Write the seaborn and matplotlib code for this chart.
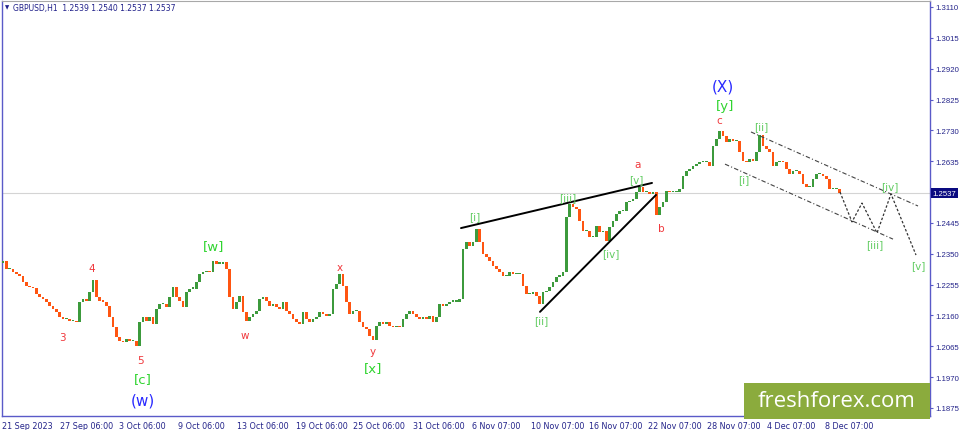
import matplotlib
matplotlib.use("Agg")
import matplotlib.pyplot as plt
import matplotlib.patches as mpatches
import seaborn as sns
import pandas as pd

# GBPUSD H1, closes (one value per ~5 hourly bars)
closes = [
    1.2328, 1.2303, 1.2303, 1.2294, 1.2288, 1.2282, 1.2263, 1.2251, 1.2248, 1.2245,
    1.2226, 1.2217, 1.2211, 1.2202, 1.2189, 1.2180, 1.2171, 1.2155, 1.2149, 1.2149,
    1.2143, 1.2143, 1.2140, 1.2202, 1.2211, 1.2205, 1.2232, 1.2269, 1.2217, 1.2205,
    1.2202, 1.2189, 1.2155, 1.2124, 1.2094, 1.2081, 1.2078, 1.2088, 1.2081, 1.2081,
    1.2066, 1.2140, 1.2155, 1.2143, 1.2155, 1.2134, 1.2180, 1.2195, 1.2195, 1.2186,
    1.2217, 1.2248, 1.2217, 1.2205, 1.2186, 1.2232, 1.2242, 1.2242, 1.2263, 1.2288,
    1.2294, 1.2297, 1.2294, 1.2328, 1.2319, 1.2319, 1.2325, 1.2303, 1.2217, 1.2180,
    1.2202, 1.2220, 1.2171, 1.2143, 1.2155, 1.2165, 1.2174, 1.2211, 1.2217, 1.2205,
    1.2189, 1.2195, 1.2186, 1.2180, 1.2202, 1.2174, 1.2165, 1.2149, 1.2140, 1.2134,
    1.2171, 1.2149, 1.2140, 1.2149, 1.2155, 1.2171, 1.2165, 1.2158, 1.2165, 1.2242,
    1.2257, 1.2288, 1.2251, 1.2202, 1.2165, 1.2174, 1.2174, 1.2140, 1.2124, 1.2118,
    1.2097, 1.2084, 1.2127, 1.2140, 1.2134, 1.2140, 1.2127, 1.2124, 1.2127, 1.2124,
    1.2149, 1.2165, 1.2174, 1.2165, 1.2155, 1.2149, 1.2155, 1.2149, 1.2158, 1.2140,
    1.2155, 1.2195, 1.2189, 1.2195, 1.2202, 1.2202, 1.2202, 1.2211, 1.2365, 1.2386,
    1.2374, 1.2386, 1.2426, 1.2386, 1.2349, 1.2340, 1.2328, 1.2312, 1.2303, 1.2294,
    1.2282, 1.2282, 1.2294, 1.2288, 1.2288, 1.2288, 1.2251, 1.2226, 1.2226, 1.2232,
    1.2220, 1.2195, 1.2232, 1.2235, 1.2248, 1.2263, 1.2279, 1.2282, 1.2294, 1.2463,
    1.2503, 1.2494, 1.2488, 1.2451, 1.2420, 1.2420, 1.2402, 1.2402, 1.2435, 1.2417,
    1.2420, 1.2389, 1.2432, 1.2451, 1.2473, 1.2482, 1.2482, 1.2509, 1.2512, 1.2519,
    1.2540, 1.2556, 1.2540, 1.2540, 1.2534, 1.2540, 1.2469, 1.2494, 1.2509, 1.2543,
    1.2540, 1.2540, 1.2540, 1.2549, 1.2589, 1.2605, 1.2611, 1.2620, 1.2626, 1.2633,
    1.2633, 1.2633, 1.2620, 1.2682, 1.2703, 1.2728, 1.2713, 1.2694, 1.2703, 1.2697,
    1.2697, 1.2663, 1.2636, 1.2633, 1.2642, 1.2636, 1.2663, 1.2716, 1.2682, 1.2673,
    1.2663, 1.2620, 1.2633, 1.2636, 1.2633, 1.2611, 1.2596, 1.2605, 1.2605, 1.2596,
    1.2565, 1.2556, 1.2556, 1.2580, 1.2596, 1.2596, 1.2589, 1.2580, 1.2549, 1.2549,
    1.2549, 1.2537,
]
first_open = 1.2320
last_price = 1.2537

date_labels = ["21 Sep 2023", "27 Sep 06:00", "3 Oct 06:00", "9 Oct 06:00", "13 Oct 06:00",
               "19 Oct 06:00", "25 Oct 06:00", "31 Oct 06:00", "6 Nov 07:00", "10 Nov 07:00",
               "16 Nov 07:00", "22 Nov 07:00", "28 Nov 07:00", "4 Dec 07:00", "8 Dec 07:00"]
date_pos = [-0.3, 17.1, 34.8, 52.5, 70.2, 87.9, 105.0, 123.0, 140.7, 158.4,
            175.8, 193.5, 211.2, 229.2, 246.6]
price_ticks = [1.1875, 1.1970, 1.2065, 1.2160, 1.2255, 1.2350, 1.2445,
               1.2635, 1.2730, 1.2825, 1.2920, 1.3015, 1.3110]

# wave labels: text, bar index, price, group
wave_labels = [
    ("3", 17.7, 1.2094, "red"), ("4", 26.7, 1.2306, "red"), ("5", 41.4, 1.2023, "red"),
    ("[c]", 42.0, 1.1967, "green_big"), ("(w)", 42.0, 1.1900, "blue"),
    ("[w]", 63.3, 1.2374, "green_big"), ("w", 72.6, 1.2100, "red"),
    ("x", 101.1, 1.2309, "red"), ("y", 111.0, 1.2050, "red"), ("[x]", 111.0, 1.2001, "green_big"),
    ("[i]", 141.6, 1.2466, "green"), ("[ii]", 161.4, 1.2146, "green"),
    ("[iii]", 169.5, 1.2525, "green"), ("[iv]", 182.4, 1.2352, "green"),
    ("[v]", 189.9, 1.2580, "green"), ("a", 190.5, 1.2626, "red"), ("b", 197.4, 1.2429, "red"),
    ("c", 214.8, 1.2762, "red"), ("[y]", 216.6, 1.2808, "green_big"), ("(X)", 216.0, 1.2867, "blue"),
    ("[i]", 222.3, 1.2580, "green"), ("[ii]", 227.4, 1.2743, "green"),
    ("[iii]", 261.6, 1.2380, "green"), ("[iv]", 266.1, 1.2559, "green"), ("[v]", 274.5, 1.2315, "green"),
]
label_style = {
    "red": dict(color="#f0383c", fontsize=7.5),
    "green_big": dict(color="#2fd42f", fontsize=9.5),
    "green": dict(color="#62cc62", fontsize=7.5),
    "blue": dict(color="#2a2aff", fontsize=11),
}

wedge_upper_x = [137.4, 194.7]
wedge_upper_p = [1.2429, 1.2568]
wedge_lower_x = [161.1, 195.9]
wedge_lower_p = [1.2171, 1.2531]
channel_upper_x = [224.4, 274.5]
channel_upper_p = [1.2725, 1.2497]
channel_lower_x = [216.6, 267.0]
channel_lower_p = [1.2626, 1.2395]
forecast_x = [251.1, 254.7, 257.7, 262.2, 266.4, 273.9]
forecast_p = [1.2540, 1.2448, 1.2506, 1.2414, 1.2534, 1.2346]

df = pd.DataFrame({"close": closes})
df["open"] = [first_open] + closes[:-1]
df["idx"] = range(len(df))
df["up"] = df["close"] >= df["open"]

sns.set_style("white")
plt.rcParams["font.family"] = ["DejaVu Sans"]

fig = plt.figure(figsize=(9.6, 4.31), dpi=100)
ax = fig.add_axes([2 / 960, 14 / 431, 928 / 960, 415 / 431])

bottoms = df[["open", "close"]].min(axis=1)
heights = (df["close"] - df["open"]).abs().clip(lower=0.0004)
colors = ["#3c9a3c" if u else "#ff5511" for u in df["up"]]
ax.bar(df["idx"], heights, bottom=bottoms, width=0.8, color=colors, linewidth=0, zorder=3)

ax.axhline(last_price, color="#d4d4d4", lw=0.8, zorder=1)

sns.lineplot(x=wedge_upper_x, y=wedge_upper_p, ax=ax, color="black", lw=1.4, zorder=4)
sns.lineplot(x=wedge_lower_x, y=wedge_lower_p, ax=ax, color="black", lw=1.4, zorder=4)
sns.lineplot(x=channel_upper_x, y=channel_upper_p, ax=ax, color="#444444", lw=0.8,
             linestyle=(0, (4, 2, 1, 2)), zorder=4)
sns.lineplot(x=channel_lower_x, y=channel_lower_p, ax=ax, color="#444444", lw=0.8,
             linestyle=(0, (4, 2, 1, 2)), zorder=4)
sns.lineplot(x=forecast_x, y=forecast_p, ax=ax, color="#333333", lw=0.9,
             linestyle=(0, (2, 1.5)), sort=False, zorder=4)

for text, xi, p, grp in wave_labels:
    ax.text(xi, p, text, ha="center", va="center", zorder=5, **label_style[grp])

ax.set_xlim(-0.3, 278.1)
ax.set_ylim(1.18502, 1.31284)

ax.yaxis.tick_right()
ax.set_yticks(price_ticks, [f"{v:.4f}" for v in price_ticks])
ax.set_xticks(date_pos, date_labels, ha="left")
ax.tick_params(axis="both", direction="out", length=2.5, width=0.8, color="#5a5ac8",
               labelcolor="#24248a")
ax.tick_params(axis="y", labelsize=5.6, pad=1)
ax.tick_params(axis="x", labelsize=5.8, pad=1)
for lab in ax.get_yticklabels():
    lab.set_family(["Liberation Sans", "DejaVu Sans"])
ax.grid(False)

for side in ["left", "right", "bottom"]:
    ax.spines[side].set_color("#5a5ac8")
    ax.spines[side].set_linewidth(1.0)
ax.spines["top"].set_color("#a8a8a8")
ax.spines["top"].set_linewidth(0.8)

ax.annotate(f"{last_price:.4f}", xy=(1.0, last_price), xycoords=("axes fraction", "data"),
            xytext=(2, 0), textcoords="offset points", ha="left", va="center",
            fontsize=5.6, color="white", family=["Liberation Sans", "DejaVu Sans"],
            bbox=dict(boxstyle="square,pad=0.25", facecolor="#0a0a80", edgecolor="none"),
            annotation_clip=False, zorder=6)

fig.text(5 / 960, 1 - 8 / 431, "\u25bc", fontsize=4, color="#20208a", va="center")
fig.text(13 / 960, 1 - 8 / 431, "GBPUSD,H1  1.2539 1.2540 1.2537 1.2537",
         fontsize=5.5, color="#20208a", va="center")

# watermark
fig.patches.append(mpatches.Rectangle((744 / 960, 11 / 431), 186 / 960, 36 / 431,
                                      transform=fig.transFigure, facecolor="#8bab3d",
                                      edgecolor="none", zorder=10))
fig.text(837 / 960, 29 / 431, "freshforex.com", fontsize=16, color="white",
         family=["Open Sans", "DejaVu Sans"], ha="center", va="center", zorder=11)

fig.savefig("out.png", dpi=100)
plt.close(fig)
